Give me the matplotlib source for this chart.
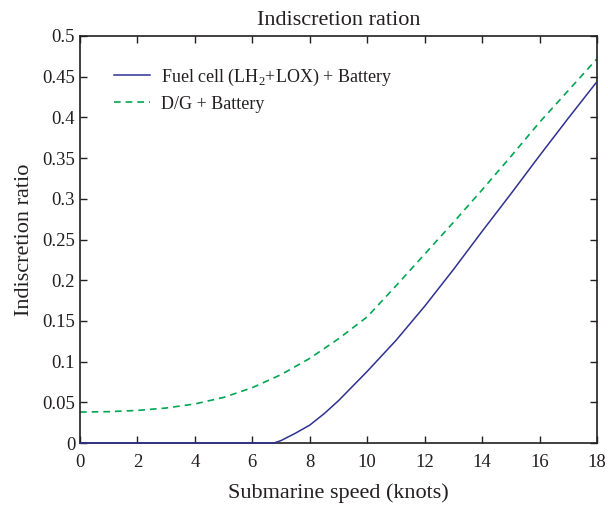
import matplotlib
matplotlib.use("Agg")
import matplotlib.pyplot as plt

speed_fc = [0, 2, 4, 6, 6.75, 7, 7.5, 8, 8.5, 9, 9.5, 10, 11, 12, 13, 14, 15, 16, 17, 18]
ratio_fc = [0, 0, 0, 0, 0, 0.003, 0.012, 0.022, 0.036, 0.052, 0.070, 0.088, 0.126, 0.168, 0.213,
            0.260, 0.306, 0.353, 0.399, 0.444]

speed_dg = [0, 1, 2, 3, 4, 5, 6, 7, 8, 9, 10, 11, 12, 13, 14, 15, 16, 17, 18]
ratio_dg = [0.038, 0.0385, 0.040, 0.043, 0.048, 0.056, 0.068, 0.084, 0.104, 0.128, 0.155, 0.193,
            0.232, 0.271, 0.311, 0.352, 0.394, 0.433, 0.472]

xticks = list(range(0, 19, 2))
yticks = [0, 0.05, 0.1, 0.15, 0.2, 0.25, 0.3, 0.35, 0.4, 0.45, 0.5]
ytick_labels = ["0", "0.05", "0.1", "0.15", "0.2", "0.25", "0.3", "0.35", "0.4", "0.45", "0.5"]

plt.rcParams['font.family'] = ['Liberation Serif', 'DejaVu Serif']
plt.rcParams['mathtext.fontset'] = 'custom'
plt.rcParams['mathtext.rm'] = 'Liberation Serif'

fig = plt.figure(figsize=(6.08, 5.09), dpi=100)
ax = fig.add_axes([80/608, 66/509, 517/608, 407/509])

ax.plot(speed_fc, ratio_fc, color='#2E3192', lw=1.1, clip_on=False, zorder=3,
        label='Fuel cell (LH$_\\mathrm{2}$+LOX) + Battery')
ax.plot(speed_dg, ratio_dg, color='#00A651', lw=1.2, ls=(0, (4, 3)), label='D/G + Battery')

ax.set_xlim(0, 18)
ax.set_ylim(0, 0.5)
ax.set_xticks(xticks)
ax.set_yticks(yticks)
ax.set_yticklabels(ytick_labels)
ax.tick_params(direction='in', top=True, right=True, labelsize=13.5, length=5, width=1, colors='#231f20')
ax.tick_params(axis='x', pad=8)
for s in ax.spines.values():
    s.set_linewidth(1.2)
    s.set_color('#231f20')

ax.set_xlabel('Submarine speed (knots)', fontsize=16, color='#231f20', labelpad=9)
ax.set_ylabel('Indiscretion ratio', fontsize=16, color='#231f20', labelpad=6)
ax.set_title('Indiscretion ration', fontsize=16, color='#231f20', pad=8)

leg = ax.legend(loc='upper left', frameon=False, fontsize=13, handlelength=2.0, handletextpad=0.6,
                bbox_to_anchor=(0.052, 0.943), labelspacing=0.45, borderaxespad=0)
for t in leg.get_texts():
    t.set_color('#231f20')

fig.savefig('out.png', dpi=100)
